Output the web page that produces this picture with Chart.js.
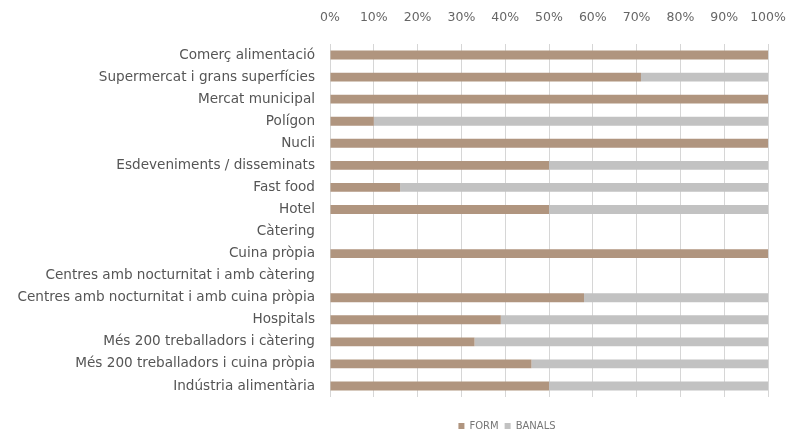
<!DOCTYPE html>
<html>
<head>
<meta charset="utf-8">
<script src="https://cdn.jsdelivr.net/npm/chart.js@4/dist/chart.umd.min.js"></script>
<style>
html,body{margin:0;padding:0;background:#fff;}
#wrap{width:788px;height:436px;}
</style>
</head>
<body>
<div id="wrap"><canvas id="c" width="788" height="436"></canvas></div>
<script>
const categories = [
  "Comerç alimentació",
  "Supermercat i grans superfícies",
  "Mercat municipal",
  "Polígon",
  "Nucli",
  "Esdeveniments / disseminats",
  "Fast food",
  "Hotel",
  "Càtering",
  "Cuina pròpia",
  "Centres amb nocturnitat i amb càtering",
  "Centres amb nocturnitat i amb cuina pròpia",
  "Hospitals",
  "Més 200 treballadors i càtering",
  "Més 200 treballadors i cuina pròpia",
  "Indústria alimentària"
];
const formValues   = [100, 71, 100, 10, 100, 50, 16, 50, 0, 100, 0, 58, 39, 33, 46, 50];
const banalsValues = [0, 29, 0, 90, 0, 50, 84, 50, 0, 0, 0, 42, 61, 67, 54, 50];
const xTicks = [0, 10, 20, 30, 40, 50, 60, 70, 80, 90, 100];

const FONT = "'DejaVu Sans', sans-serif";

// moves the legend to sit where the reference has it
const legendShift = {
  id: 'legendShift',
  afterLayout(chart) {
    const l = chart.legend;
    if (!l) return;
    const dx = 507 - (l.left + l.right) / 2;
    const dy = 18;
    l.left += dx; l.right += dx;
    l.top += dy; l.bottom += dy;
  }
};

new Chart(document.getElementById('c'), {
  type: 'bar',
  data: {
    labels: categories,
    datasets: [
      { label: 'FORM', data: formValues, backgroundColor: '#b0957f', borderWidth: 0, barPercentage: 0.4, categoryPercentage: 1 },
      { label: 'BANALS', data: banalsValues, backgroundColor: '#c2c2c2', borderWidth: 0, barPercentage: 0.4, categoryPercentage: 1 }
    ]
  },
  plugins: [legendShift],
  options: {
    indexAxis: 'y',
    responsive: false,
    animation: false,
    layout: { padding: { left: 0, right: 0, top: 0, bottom: 13 } },
    plugins: {
      tooltip: { enabled: false },
      legend: {
        position: 'bottom',
        labels: {
          boxWidth: 6, boxHeight: 6, padding: 6,
          color: '#777',
          font: { family: FONT, size: 10 }
        }
      }
    },
    scales: {
      x: {
        position: 'top',
        stacked: true,
        min: 0, max: 100,
        afterBuildTicks: (s) => { s.ticks = xTicks.map(v => ({ value: v })); },
        ticks: {
          callback: (v) => v + '%',
          color: '#666',
          font: { family: FONT, size: 12.5 },
          padding: 19,
          maxRotation: 0
        },
        grid: { color: '#d6d6d6', drawTicks: false, lineWidth: 1 },
        border: { display: false },
        afterFit: (s) => { s.height = 44; s.paddingRight = 20; s.paddingLeft = 0; }
      },
      y: {
        stacked: true,
        ticks: {
          color: '#555',
          font: { family: FONT, size: 13.6 },
          padding: 15,
          autoSkip: false
        },
        grid: { display: false, drawTicks: false },
        border: { display: false },
        afterFit: (s) => { s.width = 330; }
      }
    }
  }
});
</script>
</body>
</html>
